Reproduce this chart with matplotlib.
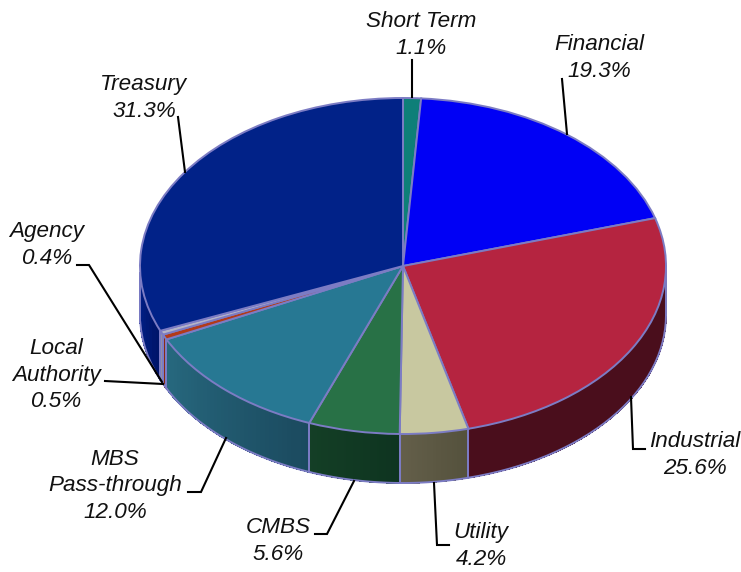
import numpy as np
import matplotlib
matplotlib.use('Agg')
import matplotlib.pyplot as plt
from matplotlib.collections import PolyCollection
from matplotlib.colors import to_rgb

names = ['Short Term', 'Financial', 'Industrial', 'Utility', 'CMBS',
         'MBS\nPass-through', 'Local\nAuthority', 'Agency', 'Treasury']
shares = [1.1, 19.3, 25.6, 4.2, 5.6, 12.0, 0.5, 0.4, 31.3]
top_colors = ['#0e7f78', '#0000f5', '#b52440', '#c8c8a0', '#287146',
              '#277893', '#b23a1a', '#b4b4c8', '#012288']
side_start = ['#0e5f5a', '#00009c', '#4a0e1c', '#54513c', '#0e3420',
              '#1b4a5f', '#8a2a12', '#9090a8', '#00156a']
side_end = ['#0e5f5a', '#00009c', '#4a0e1c', '#645f4a', '#143f26',
            '#27697f', '#8a2a12', '#9090a8', '#001f88']
edge = '#7c7cc4'

W, H = 741, 572
cx, rx = 403, 263
top, bottom = 98, 434
depth = 49 / ((bottom - top) / 2)

plt.rcParams['font.family'] = ['Liberation Sans', 'DejaVu Sans']
fig = plt.figure(figsize=(W / 100, H / 100), dpi=100)

# pie lives in its own axes, stretched to the ellipse
ax = fig.add_axes([(cx - rx) / W, 1 - bottom / H, 2 * rx / W, (bottom - top) / H])
ax.pie(shares, colors=top_colors, startangle=90, counterclock=False,
       wedgeprops={'edgecolor': edge, 'linewidth': 1.4, 'zorder': 5})
ax.set_aspect('auto')
ax.set_xlim(-1, 1)
ax.set_ylim(-1, 1)

# rim below the pie, split into thin quads for the shading
cum = np.cumsum([0] + shares) / sum(shares)
angles = 90 - cum * 360
for i in range(len(shares)):
    a1 = np.radians(angles[i])
    a2 = np.radians(angles[i + 1])
    t = np.linspace(a1, a2, 40)
    t = t[np.sin(t) <= 0.001]
    if len(t) < 2:
        continue
    x, y = np.cos(t), np.sin(t)
    polys = []
    cols = []
    c1 = np.array(to_rgb(side_start[i]))
    c2 = np.array(to_rgb(side_end[i]))
    for j in range(len(t) - 1):
        polys.append([(x[j], y[j]), (x[j + 1], y[j + 1]),
                      (x[j + 1], y[j + 1] - depth), (x[j], y[j] - depth)])
        cols.append(c1 + (c2 - c1) * j / (len(t) - 1))
    pc = PolyCollection(polys, facecolors=cols, edgecolors=cols, linewidths=0.5,
                        antialiaseds=False, zorder=1, clip_on=False)
    ax.add_collection(pc)
    ax.plot(x, y - depth, color=edge, lw=1.4, zorder=2, clip_on=False)
    ax.plot([x[0], x[0]], [y[0], y[0] - depth], color=edge, lw=1.4, zorder=2, clip_on=False)
    ax.plot([x[-1], x[-1]], [y[-1], y[-1] - depth], color=edge, lw=1.4, zorder=2, clip_on=False)

# overlay in pixel coordinates for labels and leader lines
ov = fig.add_axes([0, 0, 1, 1], facecolor='none')
ov.set_xlim(0, W)
ov.set_ylim(H, 0)
ov.axis('off')

label_x = [421, 599, 695, 481, 278, 115, 56, 47, 144]
label_y = [35, 58, 455, 546, 541, 486, 375, 245, 98]
for n, s, lx, ly in zip(names, shares, label_x, label_y):
    ov.text(lx, ly, '%s\n%.1f%%' % (n, s), ha='center', va='center', style='italic',
            fontsize=16.2, color='#111111', linespacing=1.36)

leaders = [
    [(412, 60), (412, 97)],
    [(562, 79), (567, 134)],
    [(631, 397), (633, 449), (645, 449)],
    [(434, 483), (437, 545), (449, 545)],
    [(354, 481), (327, 534), (315, 534)],
    [(226, 438), (201, 492), (188, 492)],
    [(105, 381), (163, 384)],
    [(77, 265), (89, 265), (162, 382)],
    [(178, 117), (185, 172)],
]
for pts in leaders:
    xs, ys = zip(*pts)
    ov.plot(xs, ys, color='black', lw=1.5, solid_joinstyle='miter')

fig.savefig('out.png', dpi=100)
